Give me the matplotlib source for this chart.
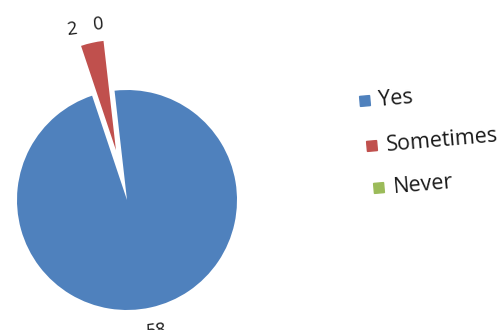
import numpy as np
import matplotlib
matplotlib.use('Agg')
import matplotlib.pyplot as plt
from matplotlib.patches import Rectangle

# data
answers = ['Yes', 'Sometimes', 'Never']
counts = [58, 2, 0]
colors = ['#4F81BD', '#C0504D', '#9BBB59']

plt.rcParams['font.family'] = ['Open Sans', 'DejaVu Sans']

fig = plt.figure(figsize=(5.01, 3.30), dpi=100)
ax = fig.add_axes([0, 0, 1, 1])

# the photo is tilted a little, so start slightly left of 12 o'clock
tilt = 6.5
center = (127, 130)
radius = 110

wedges, _ = ax.pie(counts, colors=colors, startangle=90 + tilt, counterclock=False,
                   center=center, radius=radius, explode=[0, 51, 0],
                   wedgeprops=dict(linewidth=0), frame=True)
ax.set_xlim(0, 501)
ax.set_ylim(0, 330)
ax.axis('off')

# data labels: (extra angle, distance from centre) for each slice
label_pos = [(0, 134), (5.5, 179), (3, 178)]
for w, n, (da, dist) in zip(wedges, counts, label_pos):
    ang = np.deg2rad((w.theta1 + w.theta2) / 2 + da)
    x = center[0] + dist * np.cos(ang)
    y = center[1] + dist * np.sin(ang)
    ax.text(x, y, str(n), ha='center', va='center', fontsize=13,
            color='#1a1a1a', rotation=tilt)

# legend drawn by hand so it can lean like the photo
legend_x = [365, 372, 379]
legend_y = [229, 184, 142]
for name, c, lx, ly in zip(answers, colors, legend_x, legend_y):
    ax.add_patch(Rectangle((lx - 5, ly - 5), 10, 10, color=c, angle=5,
                           rotation_point='center'))
    ax.text(lx + 14, ly, name, ha='left', va='center', fontsize=15.5,
            color='#1a1a1a', rotation=5, rotation_mode='anchor')

fig.savefig('out.png', dpi=100)
